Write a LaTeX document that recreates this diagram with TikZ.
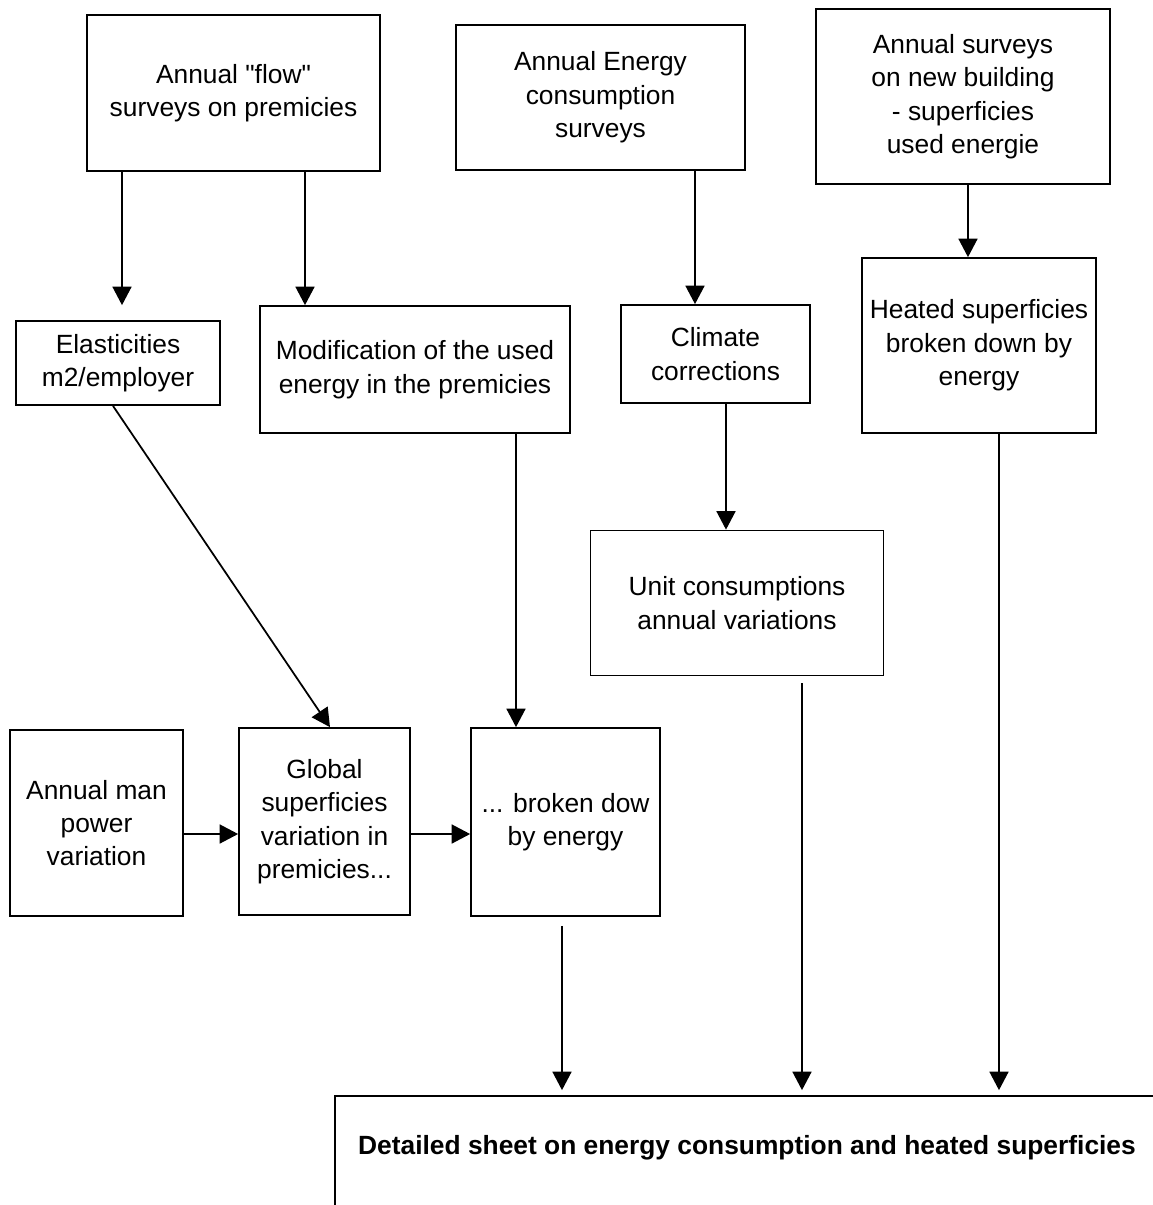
\documentclass[tikz,border=0pt]{standalone}
\usepackage{fontspec}
\setmainfont{Liberation Sans}[Ligatures=TeXOff]
\usetikzlibrary{arrows.meta}
\begin{document}
\begin{tikzpicture}[x=0.02cm, y=-0.02cm, line width=1pt, font=\fontsize{15}{19}\selectfont,
		box/.style={draw, align=center, inner sep=0pt},
		arr/.style={-{Triangle[width=0.38cm,length=0.37cm]}}]
		\useasboundingbox (0,0) rectangle (1153,1205);
		% sources
		\node[box, minimum width=5.86cm, minimum height=3.12cm] (flow) at (233.5,93) {Annual "flow"\\surveys on premicies};
		\node[box, minimum width=5.78cm, minimum height=2.9cm] (enrg) at (600.5,97.5) {Annual Energy\\consumption\\surveys};
		\node[box, minimum width=5.88cm, minimum height=3.5cm] (newbld) at (963,96.5) {Annual surveys\\on new building\\- superficies\\used energie};
		% middle row
		\node[box, minimum width=4.08cm, minimum height=1.68cm] (elast) at (118,363) {Elasticities\\m2/employer};
		\node[box, minimum width=6.2cm, minimum height=2.54cm] (modif) at (415,369.5) {Modification of the used\\energy in the premicies};
		\node[box, minimum width=3.78cm, minimum height=1.96cm] (climate) at (715.5,354) {Climate\\corrections};
		\node[box, minimum width=4.68cm, minimum height=3.5cm] (heated) at (979,345.5) {Heated superficies\\broken down by\\energy};
		\node[box, minimum width=5.86cm, minimum height=2.9cm] (unit) at (737,603) {Unit consumptions\\annual variations};
		% lower row
		\node[box, minimum width=3.46cm, minimum height=3.72cm] (manpow) at (96.5,823) {Annual man\\power\\variation};
		\node[box, minimum width=3.42cm, minimum height=3.74cm] (global) at (324.5,821.5) {Global\\superficies\\variation in\\premicies...};
		\node[box, minimum width=3.78cm, minimum height=3.76cm] (broken) at (565.5,822) {... broken dow\\by energy};
		% result sheet, cut at the page edge
		\node[minimum width=16.44cm, minimum height=2.04cm, inner sep=0pt, font=\fontsize{15}{19}\selectfont\bfseries] (sheet) at (747,1148) {Detailed sheet on energy consumption and heated superficies};
		\draw (sheet.south west) ++(0,12) -- (sheet.north west) -- (sheet.north east);
		% arrows
		\draw[arr] (flow.south -| 122,0) -- (122,0 |- modif.north);
		\draw[arr] (flow.south -| 305,0) -- (modif.north -| 305,0);
		\draw[arr] (enrg.south -| 695,0) -- (climate.north -| 695,0);
		\draw[arr] (newbld.south -| 968,0) -- (heated.north -| 968,0);
		\draw[arr] (climate.south -| 726,0) -- (unit.north -| 726,0);
		\draw[arr] (elast.south -| 113,0) -- (global.north -| 330,0);
		\draw[arr] (modif.south -| 516,0) -- (broken.north -| 516,0);
		\draw[arr] (manpow.east |- 0,834) -- (global.west |- 0,834);
		\draw[arr] (global.east |- 0,834) -- (broken.west |- 0,834);
		\draw[arr, shorten <=0.18cm, shorten >=0.12cm] (broken.south -| 562,0) -- (sheet.north -| 562,0);
		\draw[arr, shorten <=0.14cm, shorten >=0.12cm] (unit.south -| 802,0) -- (sheet.north -| 802,0);
		\draw[arr, shorten >=0.12cm] (heated.south -| 999,0) -- (sheet.north -| 999,0);
	\end{tikzpicture}
\end{document}
